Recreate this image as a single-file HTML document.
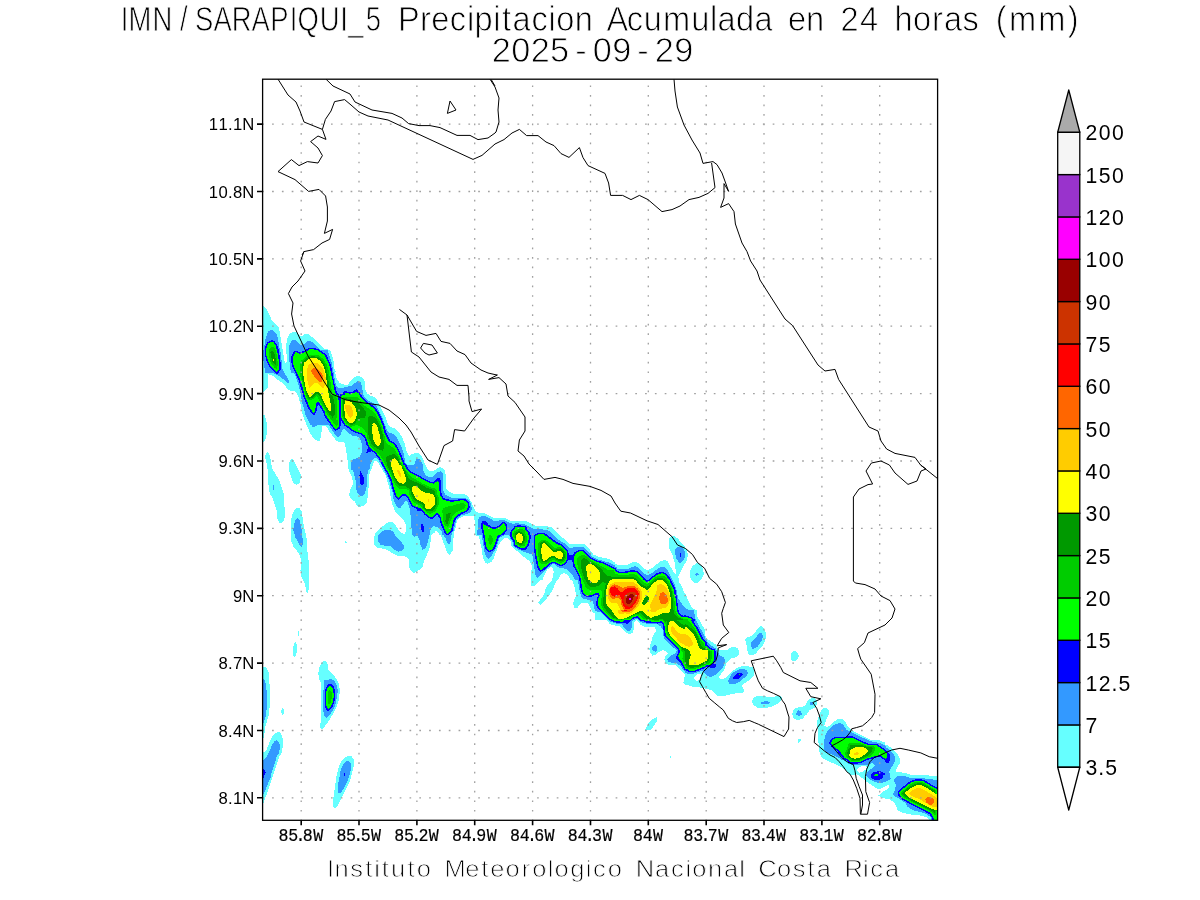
<!DOCTYPE html>
<html lang="es"><head><meta charset="utf-8"><title>IMN/SARAPIQUI_5 Precipitacion Acumulada en 24 horas (mm)</title>
<style>
html,body{margin:0;padding:0;background:#fff;}
body{width:1200px;height:900px;overflow:hidden;}
svg{display:block;}
text{font-family:"Liberation Sans",sans-serif;}
text{text-anchor:middle;}
.ttl{font-size:34.3px;fill:#000;stroke:#fff;stroke-width:0.85px;}
.ax{font-size:17.0px;fill:#000;}
.axm{font-family:"Liberation Mono",monospace;font-size:18.5px;stroke:#000;stroke-width:0.2px;}
.cb{font-size:21.2px;fill:#000;}
.ft{font-size:24.3px;fill:#000;stroke:#fff;stroke-width:0.85px;}
.grid{stroke:#a0a0a0;stroke-width:1.3;fill:none;}
.coast{stroke:#000;stroke-width:1.0;fill:none;stroke-linejoin:round;}
.frame{stroke:#000;stroke-width:1.3;fill:none;}
</style></head><body>
<svg width="1200" height="900" viewBox="0 0 1200 900">
<rect width="1200" height="900" fill="#fff"/>
<g id="shade" clip-path="url(#pc)">
<g shape-rendering="crispEdges">
<path fill="#66ffff" fill-rule="evenodd" d="M351.8 756.5L348.0 756.0L345.0 757.5L341.5 761.0L339.0 766.2L336.2 777.8L333.2 799.2L333.0 806.8L335.0 808.0L337.5 805.8L350.2 780.2L353.8 766.2L353.8 760.0ZM671.5 755.0L669.5 756.0L669.5 758.5L671.0 758.0ZM800.8 739.0L798.0 739.5L798.0 741.8L798.8 743.0L800.5 741.2ZM279.5 732.0L276.8 732.5L273.0 735.2L270.2 740.2L266.8 749.2L264.5 752.0L263.0 752.5L263.0 759.2L262.0 760.5L262.0 767.0L261.0 768.2L261.0 779.2L262.0 780.5L262.0 795.8L263.0 796.5L263.0 804.2L267.5 792.0L277.8 760.8L279.8 755.5L281.0 754.5L282.2 750.0L283.0 745.5L283.0 739.8L281.8 735.0ZM656.5 717.0L653.2 718.8L647.8 724.2L645.0 730.0L650.0 730.5L653.0 727.2L657.5 720.0ZM820.8 710.8L817.5 719.8L817.0 725.8L818.0 731.0L818.2 739.8L819.2 750.5L821.0 757.0L823.8 759.0L841.5 767.2L846.5 770.5L850.0 775.0L856.2 775.0L856.5 774.0L858.0 774.8L867.0 782.0L876.0 788.0L878.0 788.8L880.8 788.5L882.8 787.8L885.8 785.8L889.0 785.0L889.2 785.8L888.8 788.2L882.0 792.2L878.2 795.8L883.2 798.2L889.2 799.2L893.0 801.5L895.8 805.0L897.5 810.0L900.8 812.0L908.0 814.2L920.5 815.5L926.8 817.5L929.2 820.2L930.2 820.2L932.0 823.0L934.2 823.8L937.5 823.8L939.8 823.0L941.0 821.2L941.0 788.2L940.5 787.2L938.5 785.8L938.5 779.8L937.5 779.0L937.5 776.2L929.2 775.5L924.0 774.5L909.8 774.5L905.0 772.8L896.0 771.8L896.5 768.8L899.5 763.5L900.0 759.8L899.0 756.2L896.0 752.0L892.8 749.0L887.2 745.2L885.2 744.5L885.0 742.5L879.5 740.5L869.8 739.5L853.5 731.0L849.0 728.0L845.2 722.0L842.5 719.2L838.0 719.2L835.0 720.8L830.0 725.8L826.5 726.8L824.5 725.5L827.0 718.0L828.2 715.2L828.8 715.0L828.8 710.0L826.8 708.0L823.8 708.2ZM867.0 766.8L866.0 769.2L861.8 772.2L859.2 772.8L856.5 770.0L859.2 767.2L863.0 766.0ZM282.5 708.0L281.0 711.0L281.2 712.8L282.5 715.0L283.8 713.2L284.2 710.0ZM816.8 700.0L816.0 700.0L815.0 698.2L811.8 698.2L808.0 700.2L805.0 705.8L802.0 707.0L799.5 707.0L795.8 708.0L793.2 710.8L791.8 714.8L792.8 715.2L793.2 717.5L795.8 719.5L798.5 720.0L802.5 718.8L805.5 715.0L806.8 715.0L807.8 712.8L809.5 710.5L815.2 707.2L816.8 705.0ZM751.8 702.0L753.5 705.2L757.5 707.5L761.5 708.0L766.2 707.8L772.0 706.5L776.8 704.2L780.2 701.5L782.0 698.2L780.8 696.2L779.2 696.2L778.5 695.8L775.0 695.8L774.5 696.8L773.0 697.0L766.5 696.8L762.2 695.5L756.8 695.8L753.2 698.2ZM263.0 666.8L263.0 676.5L262.0 677.2L262.0 724.0L263.0 724.8L263.0 738.2L263.8 737.5L265.5 726.5L269.2 713.5L270.0 699.8L269.8 690.2L270.5 690.0L269.2 682.5L269.0 674.5L268.2 670.8L266.0 667.2ZM323.8 660.8L320.8 664.2L319.2 668.0L318.2 673.5L319.0 678.5L320.8 683.0L321.0 685.0L320.8 699.2L321.2 705.0L321.2 716.8L320.0 728.2L321.8 729.2L324.5 726.8L328.8 720.8L333.2 713.5L336.5 707.0L338.5 701.0L340.0 690.5L338.8 684.0L337.0 680.0L333.5 674.5L328.2 670.0L328.0 664.8L326.2 661.2ZM794.8 650.8L792.0 651.8L790.5 654.8L790.5 658.2L791.8 660.5L795.2 660.8L797.2 659.8L798.8 656.0L797.0 652.0ZM295.5 642.0L294.0 643.8L293.0 647.8L293.2 655.8L295.0 657.0L296.2 655.0L297.0 650.8L296.8 644.2ZM298.0 630.8L298.0 635.8L299.0 635.8L299.0 630.8ZM761.8 625.8L760.2 626.5L757.0 629.8L751.8 636.2L748.2 637.0L745.0 639.2L747.0 646.8L747.0 650.0L748.8 655.0L752.0 655.5L755.0 654.2L762.0 646.5L764.5 642.0L765.8 637.8L765.5 632.2L763.8 628.2ZM697.0 563.0L692.5 565.8L690.0 571.5L690.0 576.8L691.5 579.8L694.2 582.5L696.5 583.0L697.5 582.8L700.5 580.2L702.5 577.5L703.8 574.5L703.2 569.8L701.8 566.8L699.0 564.0ZM345.0 540.8L345.0 542.5L345.8 543.0L346.8 542.5L346.2 541.2ZM296.8 508.2L294.2 510.8L292.0 515.5L290.8 521.2L290.8 537.5L291.8 543.2L293.0 545.2L293.2 546.8L295.5 549.0L300.2 555.8L300.8 560.8L300.5 570.8L301.5 576.8L304.5 583.0L307.0 593.8L308.2 592.5L308.8 588.0L309.0 566.0L308.8 561.0L307.8 555.8L308.2 554.5L307.2 550.2L306.8 538.8L304.0 526.8L301.5 510.8L299.2 508.0ZM291.8 459.0L290.2 460.2L289.2 462.2L289.0 469.0L289.8 473.5L292.8 481.8L295.0 484.2L296.8 485.0L299.5 482.8L300.8 478.5L300.5 474.0L293.5 460.2ZM266.8 452.0L265.0 456.8L266.2 461.2L267.5 469.2L268.8 489.5L270.2 494.5L271.8 496.2L275.2 505.5L276.8 511.5L277.5 518.5L279.2 522.5L281.8 523.0L284.2 520.0L285.0 515.8L283.8 495.2L284.2 494.8L279.5 480.5L272.0 468.2L270.5 458.8L269.5 455.2L268.2 452.5ZM263.0 414.2L263.0 442.0L264.2 442.0L265.8 438.5L267.0 433.0L267.0 424.2L265.0 415.8ZM262.8 305.8L262.8 349.0L262.0 349.8L262.0 359.8L262.8 361.8L263.0 391.8L264.5 391.2L267.5 387.5L267.5 374.5L268.0 374.2L271.8 375.0L277.0 379.5L283.0 383.0L288.2 390.0L295.0 391.5L296.0 392.2L298.5 397.2L301.0 406.0L302.5 413.5L305.0 421.0L309.2 431.0L312.8 437.8L316.8 440.5L320.0 440.5L321.2 435.5L322.0 426.8L322.5 426.0L326.2 426.0L329.0 431.2L335.8 440.0L338.2 442.0L341.5 442.5L343.5 442.2L344.5 442.8L345.8 447.8L347.8 461.8L347.5 465.2L349.5 472.0L351.8 476.5L353.0 482.0L352.8 484.0L349.8 490.8L349.2 495.0L350.0 497.5L352.8 500.2L355.0 501.8L357.0 506.2L359.5 506.8L363.2 506.2L366.8 502.5L368.2 493.2L369.2 475.5L370.5 470.5L371.5 469.5L372.8 464.8L374.8 460.8L375.2 460.5L377.8 462.0L386.0 475.8L390.0 491.2L390.8 498.5L392.5 504.5L394.5 509.2L394.2 510.0L397.8 514.5L403.5 519.8L405.8 524.2L406.2 530.2L404.5 533.8L403.8 534.0L400.2 532.0L395.5 525.5L392.5 522.5L388.2 522.0L380.5 527.8L376.8 531.2L375.5 533.0L374.2 536.5L373.8 540.0L374.5 545.0L376.8 547.5L385.8 549.2L395.5 555.0L398.0 555.8L402.8 555.8L406.8 557.0L409.0 560.0L409.2 567.5L410.5 569.8L413.8 573.0L419.8 569.8L423.0 566.8L423.8 561.5L428.5 551.2L429.8 547.0L431.5 534.8L433.0 533.2L435.0 533.0L435.2 531.0L437.5 531.8L439.5 535.0L440.8 535.5L447.5 553.2L450.0 555.0L452.5 550.8L454.0 532.0L455.5 528.0L456.2 523.5L457.5 520.0L459.5 518.0L462.2 516.8L467.8 515.5L473.0 515.5L473.5 516.0L474.8 521.8L475.0 535.0L479.0 536.5L481.8 549.5L482.8 556.8L485.0 562.5L487.8 563.8L491.2 562.0L493.8 558.2L498.2 546.0L501.0 541.0L504.2 538.0L507.5 538.0L511.2 542.2L511.5 545.5L512.0 546.5L515.0 549.0L515.0 550.0L518.0 551.5L522.2 555.5L529.5 561.2L531.8 565.5L531.8 569.8L531.2 570.0L530.8 576.2L531.2 585.8L535.0 585.5L540.0 580.0L542.5 580.0L544.0 575.5L547.5 569.5L550.8 566.8L552.0 567.0L553.2 569.2L553.8 572.0L552.0 580.8L548.0 584.5L545.8 587.8L544.0 594.8L538.2 602.5L540.5 604.5L544.0 601.8L550.2 594.0L553.5 587.8L555.8 581.8L557.0 580.0L558.2 580.0L560.5 575.0L563.2 573.0L566.8 573.8L569.2 576.8L570.5 580.0L571.5 580.0L573.0 582.0L574.8 588.2L576.2 595.8L574.5 599.0L573.2 603.0L574.2 608.2L577.5 608.2L579.2 605.2L582.5 602.5L586.0 602.5L587.8 603.0L588.5 603.8L592.2 611.5L595.0 613.8L595.0 620.0L606.8 620.0L608.5 621.5L609.5 624.2L612.2 625.0L613.2 624.8L615.2 625.8L619.2 626.2L625.8 632.5L629.8 634.5L633.2 632.5L634.5 621.8L636.2 620.0L638.8 622.2L640.8 625.0L644.8 626.8L650.8 626.8L654.8 627.5L656.2 630.8L653.0 635.5L649.2 648.8L650.0 652.5L652.5 655.5L655.8 655.0L659.5 651.5L662.5 650.0L665.0 650.8L668.0 653.2L665.5 656.2L664.2 659.8L665.8 663.2L670.0 665.5L675.0 665.0L677.8 667.0L685.0 674.2L684.2 679.5L683.2 682.5L685.8 685.0L687.8 685.0L694.0 687.0L699.8 687.5L711.8 690.0L716.8 695.5L725.2 695.8L731.2 694.0L737.5 693.2L742.5 693.2L744.2 691.8L743.5 688.8L741.8 685.5L752.2 677.8L754.2 675.0L754.2 670.8L752.5 667.5L749.5 666.5L742.8 666.2L740.0 666.8L735.2 669.0L731.2 672.0L724.2 678.8L720.2 678.8L719.8 678.2L719.2 676.8L723.5 670.5L725.0 667.5L726.0 663.8L728.0 661.0L731.2 658.5L736.8 657.0L739.5 654.2L739.2 650.0L738.5 650.0L737.5 648.2L734.5 647.0L730.8 647.5L727.5 650.0L718.8 650.0L716.0 644.8L711.5 641.5L707.8 639.5L705.8 637.0L705.0 635.5L705.0 630.0L697.5 616.8L696.8 610.0L695.5 610.0L695.0 609.2L693.2 609.0L692.2 608.0L688.5 601.0L685.0 593.0L684.8 593.5L682.5 588.2L679.2 582.0L678.2 576.8L682.2 568.5L687.0 560.2L688.0 554.8L686.8 550.0L684.5 546.0L677.2 538.0L674.2 536.2L670.8 536.8L669.2 538.2L669.0 540.8L669.5 549.2L672.0 553.8L674.8 563.0L676.2 574.2L676.0 574.8L673.5 572.2L667.5 560.8L664.0 560.0L660.8 561.2L652.2 567.8L648.2 570.0L645.0 569.2L640.0 564.2L635.2 561.8L631.8 562.5L627.5 564.8L623.8 565.5L618.0 565.0L615.2 564.0L614.8 562.2L608.8 559.0L606.0 558.0L598.8 557.0L593.5 554.5L588.0 547.2L584.2 544.2L580.5 543.5L570.0 544.2L567.0 541.2L559.8 535.5L551.2 527.2L548.5 526.5L540.8 526.2L534.8 525.5L526.0 521.2L525.2 521.2L525.0 520.8L521.5 521.0L516.2 520.5L512.5 521.2L511.0 521.0L503.5 517.5L499.5 518.0L493.2 517.5L483.5 512.5L478.2 512.5L475.2 511.0L471.8 502.8L468.0 496.5L465.0 494.5L454.2 494.2L449.2 491.8L445.8 488.2L445.8 476.0L444.8 470.2L443.0 468.0L439.8 467.2L436.2 469.0L433.2 471.2L431.5 471.5L429.8 471.0L426.8 468.2L425.5 465.0L424.8 464.8L424.2 461.8L421.8 456.8L418.2 453.2L414.8 453.0L411.8 454.2L409.2 456.8L406.5 450.8L404.2 442.2L401.5 436.2L398.5 432.0L395.0 428.2L391.8 427.5L388.0 425.2L386.0 418.0L377.2 400.2L374.2 397.0L370.5 395.8L366.8 393.2L365.5 389.5L365.0 383.0L364.2 380.5L361.8 376.8L357.2 376.0L354.2 377.5L350.5 381.0L348.5 384.0L347.5 384.5L344.8 385.0L339.5 382.8L336.8 378.8L335.0 372.8L336.0 372.2L334.2 367.8L333.5 361.0L332.0 354.8L330.0 350.0L328.8 350.0L327.5 349.0L325.0 349.0L313.5 338.0L308.0 334.0L305.0 334.2L302.8 335.5L300.0 335.8L297.8 333.0L295.8 332.0L292.5 332.0L289.8 334.0L287.8 337.2L286.8 340.5L286.2 345.2L286.8 361.0L286.0 364.2L284.5 361.0L279.2 329.0L278.0 326.2L272.2 321.0L266.8 309.5ZM700.8 674.0L701.5 676.0L700.2 679.2L697.5 681.0L695.0 680.2L694.0 678.5L694.0 677.5L697.5 674.2Z"/>
<path fill="#3399ff" fill-rule="evenodd" d="M896.8 776.8L894.2 779.2L894.5 782.0L895.8 784.8L895.0 790.2L893.2 794.2L894.8 796.5L901.0 799.8L905.2 802.8L907.2 806.5L910.8 809.2L914.8 810.8L923.8 812.8L926.2 814.0L930.2 817.0L931.0 818.0L931.5 820.5L932.8 822.2L934.2 822.8L937.5 822.8L939.0 822.2L940.0 821.0L940.0 788.5L937.5 786.2L937.5 780.0L920.2 778.0L910.5 778.2L903.5 775.5L899.8 775.5ZM348.8 761.2L346.2 761.2L343.2 764.2L340.8 769.8L338.2 784.2L338.0 792.5L340.8 792.5L343.5 788.8L347.0 782.0L349.0 776.8L350.8 769.8L350.8 763.8ZM276.8 740.0L274.8 741.0L272.2 744.5L270.0 750.2L266.8 756.8L263.0 760.8L263.0 767.8L262.0 768.5L262.0 779.0L263.0 779.8L263.0 795.5L270.5 777.8L272.2 770.5L275.2 762.0L276.8 756.2L277.5 755.0L278.2 755.0L279.5 750.2L280.0 744.8L278.8 742.0ZM828.8 729.8L826.5 732.8L825.0 735.8L823.8 743.0L824.2 749.2L826.8 752.5L834.5 755.5L842.0 759.8L847.2 762.0L848.5 764.0L853.2 765.0L857.8 764.5L865.2 765.0L868.5 764.5L872.2 763.2L875.0 765.0L874.5 766.5L868.0 771.2L865.8 775.0L868.0 778.0L870.8 780.0L874.8 782.0L879.0 783.2L883.5 782.5L890.8 779.2L889.2 771.5L890.8 768.2L893.2 765.0L895.0 761.0L894.5 755.8L892.0 752.0L885.8 747.0L884.8 745.2L880.0 743.0L870.2 741.2L846.8 730.0L842.5 723.8L840.0 723.2L835.8 723.8L832.8 725.5ZM801.8 713.2L800.8 711.5L798.8 710.0L797.0 711.8L795.8 715.0L799.5 715.8L800.2 715.0L801.5 714.8ZM810.0 702.0L810.0 704.5L813.2 704.5L813.0 702.0ZM770.0 703.2L769.2 702.0L766.0 701.0L762.5 701.8L760.0 703.2L762.2 704.0L767.2 704.0ZM331.8 679.2L329.2 679.2L328.2 680.0L324.2 680.0L323.0 698.0L323.2 710.5L324.5 715.8L326.8 718.0L329.8 714.8L332.8 710.5L335.5 704.5L338.0 690.8L336.2 684.0L334.2 680.0L332.8 680.0ZM263.0 677.5L263.0 723.8L265.2 718.5L266.2 713.8L266.8 707.0L266.8 693.0L266.2 686.2L265.0 680.0L263.8 679.8ZM747.0 670.5L744.5 669.2L739.8 669.2L735.0 671.2L732.2 673.5L730.2 676.2L728.2 680.5L728.8 683.2L730.8 684.5L735.0 684.2L739.0 682.0L746.0 676.5L748.0 673.2ZM655.0 645.0L652.0 647.5L652.0 649.5L653.2 651.2L655.8 651.8L657.5 648.8L656.8 645.8ZM761.8 633.2L759.5 633.2L751.2 642.5L751.2 646.8L752.5 648.8L755.0 648.2L757.2 647.0L761.5 641.0L763.0 637.0ZM697.0 573.0L695.0 574.2L696.8 575.8L698.8 574.5ZM678.8 546.8L676.2 548.0L675.0 550.5L675.0 552.8L676.0 557.8L677.8 561.0L680.0 563.0L681.8 562.0L684.2 558.8L685.0 555.5L685.0 553.0L683.8 549.2L681.2 547.2ZM378.2 535.8L378.2 541.8L380.5 544.5L384.0 545.5L388.5 545.5L391.2 546.5L395.2 550.2L398.2 551.8L401.8 550.8L403.8 548.2L403.8 545.0L394.8 535.0L393.2 531.8L390.0 529.5L385.5 530.0L381.8 531.8ZM297.5 518.0L295.2 520.5L294.0 525.0L293.2 530.5L295.5 537.5L299.0 544.0L301.8 547.5L303.0 543.5L301.8 530.2L299.5 520.0ZM479.2 517.5L477.5 521.5L477.5 529.8L477.0 535.0L481.8 535.2L484.5 552.0L486.2 556.8L488.2 558.8L491.0 556.8L493.2 552.8L493.2 552.0L494.8 550.5L497.0 546.0L499.5 538.0L504.8 535.0L508.5 535.0L509.5 536.2L510.0 538.5L512.5 541.8L512.5 545.2L513.8 546.8L519.2 550.0L522.2 550.8L523.8 552.0L531.0 554.0L532.0 554.8L533.0 558.0L535.2 574.2L537.0 578.0L539.0 577.0L544.8 570.5L552.5 564.2L554.5 564.2L559.0 567.8L566.8 568.8L572.8 575.0L575.0 580.0L577.8 580.2L580.2 593.5L581.8 598.0L592.8 601.5L593.2 602.0L593.8 606.0L595.0 610.5L596.0 610.5L598.2 612.0L600.5 612.2L605.8 617.8L611.0 622.0L617.2 623.8L621.5 624.2L626.8 630.5L630.5 630.5L631.8 627.0L632.0 621.8L633.5 620.0L636.2 618.8L637.5 619.2L640.2 622.0L641.8 622.5L643.8 622.5L645.0 623.2L648.2 624.0L657.5 624.5L660.0 625.8L662.5 629.2L663.0 634.8L664.5 639.2L671.0 646.0L676.8 650.0L676.0 652.8L675.2 653.5L671.8 654.8L667.0 659.2L668.0 661.5L672.2 663.0L676.8 663.2L681.5 667.2L682.5 668.5L682.8 670.0L685.0 671.5L685.0 672.5L689.0 674.2L693.5 673.8L701.8 670.8L704.5 672.5L705.8 675.0L709.2 676.8L712.2 676.5L716.5 674.5L722.5 667.5L724.5 663.5L725.0 660.0L723.8 656.8L720.0 656.2L716.0 648.8L715.2 648.0L714.0 647.8L709.8 644.0L707.8 643.0L707.2 641.2L705.0 639.0L705.0 637.5L702.5 632.2L695.0 618.5L695.0 614.2L693.5 613.2L694.2 610.0L688.2 610.0L684.8 607.2L680.5 602.2L678.0 597.8L677.2 592.5L674.5 583.8L667.0 569.5L664.2 566.8L660.8 567.0L659.2 567.8L652.2 572.8L648.2 575.0L645.0 574.2L638.2 567.5L635.2 566.2L633.0 566.8L628.2 569.0L625.0 569.5L619.0 569.2L617.5 568.8L616.5 567.5L615.2 567.0L614.8 565.5L609.8 562.8L596.8 559.2L592.8 557.0L584.2 547.5L579.0 546.5L574.8 547.0L571.0 548.2L569.8 547.8L565.5 544.0L557.8 539.5L549.8 531.5L546.8 529.8L534.0 528.8L525.2 524.8L525.0 523.8L521.0 524.0L517.2 523.2L512.8 523.8L510.0 523.0L503.5 519.5L500.0 520.0L498.8 520.8L493.2 520.5L489.2 518.0L483.5 515.5ZM273.2 485.0L273.2 489.2L273.8 490.0L274.2 487.0L274.0 485.5ZM291.5 341.0L289.5 344.8L289.0 359.0L290.0 364.2L290.8 372.5L293.8 372.5L295.8 376.5L298.0 383.0L300.8 394.5L301.8 401.0L305.5 414.5L310.5 424.8L311.2 425.0L313.2 427.5L316.5 426.0L317.2 425.0L328.8 425.0L334.8 434.0L338.2 437.5L340.8 435.0L342.0 430.0L344.2 428.2L350.0 434.2L353.0 435.8L358.2 436.8L360.8 440.0L361.8 444.5L361.8 452.0L360.2 456.2L357.0 458.2L353.2 459.2L352.8 460.2L351.8 460.8L350.8 465.8L351.5 469.5L353.0 470.5L355.8 481.2L356.2 488.8L357.5 493.2L360.0 495.8L363.2 495.5L365.0 492.8L366.8 486.2L367.0 477.5L368.2 470.2L369.2 470.0L370.5 464.0L372.8 459.5L375.8 457.5L378.2 459.8L380.0 462.5L388.5 478.8L392.5 492.2L393.2 498.5L394.8 502.8L397.2 507.2L400.0 508.2L404.5 502.2L406.2 501.0L407.0 501.2L408.8 505.5L410.2 511.2L411.2 521.8L411.8 534.2L414.2 536.8L417.2 536.0L417.8 536.2L419.5 539.8L420.5 544.5L422.5 549.5L425.0 549.2L427.0 545.2L428.5 539.0L428.8 536.0L430.0 533.5L430.8 528.2L433.5 526.2L437.0 526.8L439.8 529.0L441.5 531.2L442.5 535.0L443.5 535.0L445.5 538.0L447.0 543.2L449.2 544.5L450.8 541.0L451.8 533.2L453.5 531.0L456.5 519.5L461.5 515.2L466.8 514.2L469.8 512.8L471.8 509.2L471.2 504.8L469.2 500.8L465.8 498.0L462.8 497.5L457.5 498.2L452.0 497.8L445.5 494.8L443.2 490.8L443.2 478.5L442.5 473.2L440.5 471.2L437.5 472.5L432.2 477.2L429.2 477.5L425.5 474.8L423.2 470.2L423.0 466.2L422.0 462.5L420.0 459.5L417.5 458.8L415.8 459.8L414.0 465.0L407.2 464.8L405.5 462.5L403.8 454.0L401.8 448.0L396.8 437.5L394.2 434.2L388.5 432.2L387.2 431.2L382.5 418.0L376.0 405.2L372.5 402.5L367.0 400.0L363.8 396.8L361.8 385.5L360.5 382.0L358.0 380.8L351.8 385.5L342.2 388.0L337.5 387.5L336.2 386.2L331.2 360.5L327.5 350.0L321.5 350.0L320.5 349.5L310.8 341.0L307.5 341.2L304.0 344.0L301.2 345.5L295.8 340.5L293.2 340.0ZM270.8 329.8L268.2 331.5L266.8 334.8L265.2 339.8L264.0 348.2L263.5 349.8L263.0 350.0L263.0 359.5L263.8 361.5L265.0 372.5L272.0 372.5L279.8 376.5L283.8 379.5L287.0 383.0L289.2 382.5L287.8 378.2L282.8 370.2L282.0 367.2L281.2 354.8L280.0 350.5L277.5 336.5L275.8 333.0L273.2 330.2Z"/>
<path fill="#0000ff" fill-rule="evenodd" d="M897.8 792.0L898.5 796.2L902.8 799.8L910.0 804.0L929.0 813.8L931.5 816.8L932.5 820.2L933.5 821.5L937.5 821.8L939.0 820.8L939.0 788.8L938.0 787.8L932.2 785.0L924.5 780.2L920.2 779.0L915.5 779.2L909.2 781.8L902.2 787.5ZM344.0 773.0L344.0 775.8L345.0 775.8L345.0 773.0ZM885.0 773.8L882.8 772.2L879.5 771.2L874.8 771.8L871.8 773.2L870.5 776.0L871.8 778.2L874.2 779.5L878.5 779.8L882.0 778.8L883.2 776.8L882.5 775.2L885.0 775.0ZM263.0 768.8L263.0 778.8L265.8 772.2L264.8 770.2ZM829.2 742.0L829.2 743.0L830.8 746.0L837.2 751.0L843.8 759.0L848.2 761.2L848.5 762.5L850.0 763.5L855.8 764.0L860.2 763.2L868.8 759.5L879.0 756.8L880.8 757.2L882.5 758.8L885.2 760.2L885.0 761.8L886.8 763.8L889.2 762.0L890.5 759.5L890.0 755.0L888.0 752.2L883.8 748.5L877.0 744.0L875.8 743.5L867.8 743.5L852.5 736.5L849.0 736.0L846.2 736.5L835.8 736.8L832.0 738.5ZM331.2 683.8L328.2 684.2L326.8 686.0L325.2 689.5L324.5 693.2L324.5 702.2L325.2 707.5L326.2 709.5L328.2 711.2L330.8 709.2L333.0 706.0L335.0 699.0L335.0 689.8L333.2 685.5ZM743.0 674.5L741.8 673.2L739.8 672.8L738.2 673.0L734.8 675.2L733.0 678.0L733.2 679.2L737.5 679.2L740.5 677.2ZM679.8 552.5L679.8 556.8L681.0 557.0L681.2 552.5ZM534.0 535.2L533.5 543.8L534.8 556.0L537.0 566.8L539.2 570.8L540.8 571.8L541.2 571.2L542.5 571.2L552.0 563.2L554.8 563.2L561.0 566.5L564.8 564.8L568.5 560.0L572.0 560.0L573.5 566.5L578.8 576.8L581.0 590.8L582.8 594.8L586.5 597.0L588.0 597.2L592.0 596.5L595.8 594.8L597.8 594.5L598.2 595.2L596.8 598.5L596.0 604.8L597.5 607.8L606.5 617.0L611.0 620.8L617.2 622.8L620.8 623.2L623.5 622.8L624.2 623.2L627.5 623.8L629.5 621.5L630.8 621.2L632.8 619.2L635.0 618.0L636.8 617.8L638.2 618.5L641.0 621.2L644.0 621.5L646.5 622.8L657.5 623.5L661.0 622.8L662.8 624.8L664.2 635.5L677.8 648.8L678.2 652.5L676.8 656.0L675.5 656.8L677.2 659.8L680.2 662.2L681.8 665.5L683.5 667.8L683.5 669.2L684.2 670.0L687.0 670.8L689.2 672.0L695.2 672.0L702.8 668.8L705.8 668.0L707.5 666.5L709.8 666.5L710.8 668.0L713.5 668.0L716.2 667.0L716.2 663.8L713.5 664.0L715.2 661.2L715.8 658.8L715.8 652.8L715.2 649.5L713.8 648.5L711.8 648.5L706.5 644.8L706.5 642.0L703.0 638.5L698.0 628.2L693.5 621.8L694.5 620.5L694.5 619.5L693.5 618.5L690.8 617.0L689.2 616.8L688.2 615.8L686.0 615.8L685.0 615.2L683.0 615.8L679.5 613.2L678.2 608.5L676.2 592.8L674.8 587.5L670.0 578.0L666.2 573.5L662.5 571.8L658.5 572.5L655.0 574.2L648.5 580.0L647.0 580.2L644.2 578.2L637.5 571.2L633.8 570.2L631.5 570.2L624.8 571.5L619.2 571.5L617.0 570.5L615.8 568.2L602.8 562.0L597.2 560.5L593.2 558.8L590.5 556.8L586.0 552.0L582.5 549.8L578.5 550.0L575.2 551.8L574.2 552.8L573.2 555.0L569.2 555.5L568.0 550.8L564.8 546.8L561.2 544.2L557.0 542.2L545.2 533.5L542.0 532.5L538.2 532.8L535.0 534.2ZM514.2 526.2L513.5 527.0L513.5 528.0L511.8 529.5L510.2 532.5L510.5 537.2L513.5 541.5L513.5 545.0L517.0 547.8L520.0 549.2L522.8 549.8L525.8 549.5L528.5 545.8L530.8 538.5L530.8 536.5L529.8 532.8L526.5 528.8L526.5 527.0L525.8 526.2L518.8 525.2ZM421.2 524.2L421.0 527.5L422.0 531.8L423.8 531.8L424.0 527.2L423.0 524.2ZM504.0 522.0L502.2 522.0L498.5 525.8L496.0 527.0L491.2 526.5L488.5 524.5L485.0 520.8L482.5 520.5L481.0 523.8L481.0 528.2L482.0 530.5L483.0 535.0L484.8 546.5L485.8 549.5L486.8 550.8L490.0 552.2L493.0 550.8L494.0 549.8L496.0 545.8L498.8 536.8L500.8 536.2L502.0 535.0L503.2 535.0L507.0 530.8L507.5 527.5L506.8 524.2L505.5 522.8ZM360.5 470.8L359.5 475.5L360.0 483.8L362.0 485.0L364.0 484.2L363.8 477.2ZM294.8 350.8L293.8 351.8L291.5 356.2L291.0 359.2L291.2 362.5L292.8 367.5L299.0 381.2L302.8 395.0L308.0 407.8L312.0 414.0L313.8 415.2L315.2 414.2L316.5 410.8L317.8 404.5L318.2 404.2L323.5 412.5L323.5 414.8L325.0 417.2L334.8 430.5L336.5 430.5L339.8 428.5L340.0 426.8L340.8 425.5L340.8 422.2L341.2 421.0L343.5 423.8L343.5 425.5L344.2 426.2L346.2 426.5L351.0 430.5L356.5 433.2L360.5 434.2L363.8 436.8L364.8 439.0L366.5 445.0L368.5 447.5L368.5 448.0L367.0 449.2L366.2 453.2L371.8 451.0L374.8 453.5L379.0 459.0L385.0 470.2L386.0 471.2L390.2 480.2L392.5 489.2L395.2 497.2L398.2 499.8L403.2 495.5L405.0 495.5L407.0 497.5L411.0 505.5L414.2 508.0L417.0 508.8L416.8 510.5L417.5 511.2L422.0 511.5L424.5 514.8L425.8 515.2L429.0 518.2L431.5 519.0L432.5 518.8L436.8 515.0L437.5 515.0L439.8 518.8L440.0 521.8L444.2 532.2L446.8 535.0L447.5 535.2L449.0 534.5L452.5 530.8L454.5 522.0L455.8 518.8L460.8 514.5L467.2 511.5L468.2 510.5L469.8 507.5L469.0 502.8L465.8 499.5L462.2 498.5L457.2 499.8L451.2 500.2L443.8 498.2L441.8 494.5L441.0 490.8L440.5 479.8L439.2 477.0L433.5 481.8L430.5 481.5L426.5 480.0L420.0 476.0L412.2 472.2L408.0 468.5L406.2 464.8L404.8 463.5L399.5 450.5L396.8 445.5L393.2 442.0L390.5 440.8L388.8 438.0L386.0 432.2L384.8 426.8L382.2 420.0L379.5 414.0L376.8 409.8L372.2 405.2L367.8 402.2L363.5 398.2L358.2 390.5L356.2 389.0L352.2 392.0L349.8 392.2L345.5 391.0L344.2 391.2L343.5 392.0L343.2 393.5L341.0 393.8L339.5 395.8L339.0 394.5L337.2 393.2L334.5 383.8L330.8 364.2L326.2 354.8L325.0 353.5L317.5 348.8L313.0 347.8L308.5 348.2L304.0 351.0L299.8 352.2L295.8 350.5ZM271.2 340.2L268.2 341.8L267.0 343.0L265.5 345.8L264.5 349.8L264.8 355.0L266.8 361.5L269.0 366.0L272.2 370.0L276.0 373.8L276.8 374.0L278.5 372.8L280.5 369.8L280.5 361.8L278.8 350.2L277.0 344.5L274.0 340.8Z"/>
<path fill="#00ff00" fill-rule="evenodd" d="M899.2 792.5L900.0 795.8L903.5 798.5L910.8 802.8L929.8 812.5L933.0 816.2L934.2 820.2L937.5 820.2L937.2 789.0L931.5 786.2L923.8 781.5L920.2 780.5L915.5 780.8L910.8 782.5L903.0 788.8ZM874.2 775.5L875.0 776.0L878.0 776.0L877.5 774.5L876.0 774.0ZM830.8 742.5L832.2 745.5L839.0 750.5L844.5 757.8L850.0 760.8L850.0 762.0L855.8 762.5L860.2 761.8L868.0 758.2L879.0 755.2L880.8 755.5L883.2 757.5L885.8 758.8L887.0 756.8L886.8 753.2L883.0 749.8L876.2 745.2L867.8 745.0L861.5 742.5L852.5 738.0L849.0 737.5L846.2 738.0L835.8 738.2L832.8 739.8ZM329.8 685.5L329.0 685.8L327.0 689.2L326.0 693.8L326.0 701.8L326.5 705.8L328.0 709.2L329.8 708.0L332.0 704.5L333.2 700.2L333.8 695.5L333.0 688.2L331.2 686.2ZM739.0 674.2L739.0 674.8L739.8 674.8L739.8 674.2ZM575.8 553.2L574.2 556.5L573.8 561.2L575.0 566.0L580.2 576.2L582.5 590.2L584.2 594.2L588.0 595.8L592.0 595.0L595.5 593.2L598.2 592.8L600.0 595.2L598.2 599.0L597.5 604.2L599.0 607.2L609.8 618.0L612.5 620.0L617.2 621.2L622.0 621.8L625.2 620.0L630.0 620.0L633.2 617.2L637.0 616.2L639.0 617.2L641.8 620.0L644.2 620.0L646.5 621.2L657.5 622.0L661.8 621.2L664.2 624.2L665.8 635.0L679.2 648.2L680.0 652.5L678.2 655.8L679.2 659.2L681.8 661.8L683.2 665.0L685.0 667.2L685.0 668.8L687.8 669.5L689.2 670.5L695.2 670.5L702.5 667.2L705.0 666.8L705.2 666.0L707.2 665.0L710.0 665.0L712.0 663.5L713.8 660.8L714.2 658.2L713.8 655.8L714.2 654.5L713.8 650.0L711.2 650.0L705.0 645.2L705.0 642.5L701.5 639.0L696.5 628.8L691.0 620.5L691.2 620.0L693.0 620.0L690.0 618.2L688.8 618.2L687.5 617.0L685.8 617.2L685.0 616.8L684.8 617.5L682.2 617.0L678.2 614.2L676.8 609.0L675.5 597.8L673.2 588.0L669.2 579.8L665.5 574.8L662.5 573.2L659.2 573.8L655.8 575.5L649.2 581.2L646.8 581.8L643.5 579.5L636.8 572.5L633.8 571.8L631.5 571.8L624.8 573.0L619.0 573.0L615.2 571.2L615.0 569.5L602.0 563.2L596.5 561.8L592.5 560.0L589.8 558.0L585.2 553.2L582.5 551.2L579.2 551.2ZM535.5 535.8L535.0 543.2L536.0 553.8L538.5 566.2L540.0 569.5L541.8 570.0L547.2 565.0L551.8 561.8L555.0 561.8L560.8 565.0L564.8 562.8L566.8 560.0L567.5 555.2L566.8 551.8L564.0 548.0L560.5 545.5L556.2 543.5L544.5 534.8L542.0 534.0L538.2 534.2ZM515.0 527.5L515.0 529.0L513.2 530.0L511.8 533.0L512.0 536.8L515.0 541.0L515.0 544.5L520.8 548.0L525.0 548.2L525.0 547.5L527.0 545.2L529.2 538.0L528.2 533.2L525.0 529.2L525.0 527.5L518.8 526.8ZM504.8 524.0L503.0 523.2L500.2 526.2L497.5 528.2L493.8 529.2L488.8 527.2L485.8 525.0L482.5 524.2L482.5 527.8L483.8 531.0L486.2 546.0L487.5 549.5L490.0 550.8L492.5 549.2L494.5 545.2L497.8 535.2L500.0 535.0L502.0 533.0L504.0 532.0L505.8 529.2L505.8 526.5ZM345.0 392.5L345.0 394.8L341.8 395.0L340.5 397.2L340.8 414.8L341.8 419.2L345.0 423.2L345.0 425.0L346.8 425.0L351.8 429.2L357.2 432.0L361.2 433.0L365.0 435.8L366.8 439.8L368.2 445.0L371.2 448.8L375.2 452.0L378.8 456.0L382.2 461.2L386.5 469.8L387.2 470.2L391.8 479.8L394.0 488.8L396.8 496.8L398.2 498.2L403.2 493.8L405.8 494.2L408.5 497.0L412.8 505.2L415.0 506.8L418.5 507.5L421.5 509.0L422.2 509.8L422.0 510.0L418.2 510.0L422.5 510.0L425.0 512.2L425.2 513.5L426.5 514.0L429.8 517.0L431.8 517.5L436.8 513.2L438.8 514.0L441.2 518.2L441.5 521.2L445.2 530.8L447.5 533.8L451.0 530.2L453.0 521.5L454.2 518.2L460.0 513.2L466.8 510.0L468.2 507.0L467.5 503.2L465.0 500.8L462.2 500.0L457.2 501.2L451.2 501.8L446.5 500.8L442.5 499.2L440.2 495.0L439.5 491.2L439.2 484.5L438.2 480.8L435.8 481.8L433.5 483.5L430.5 483.0L425.8 481.2L419.2 477.2L410.2 472.8L406.5 469.0L404.8 465.2L403.5 464.5L398.0 451.0L395.2 446.0L392.5 443.2L389.2 441.8L387.2 438.5L384.5 432.8L383.2 427.2L380.8 420.5L378.0 414.5L375.2 410.2L371.5 406.5L364.5 401.2L362.0 398.8L358.5 393.5L357.2 392.5L356.0 392.0L353.5 393.2L350.8 393.8ZM295.5 352.0L293.0 356.8L292.5 359.8L292.8 362.0L294.2 367.0L299.5 378.0L302.8 388.0L304.5 395.2L309.5 407.2L313.8 413.8L315.0 410.2L316.2 404.0L317.2 401.8L317.8 401.5L319.8 403.5L325.0 412.0L325.0 414.2L335.2 429.0L335.8 429.2L338.2 428.0L338.8 425.2L339.2 425.0L339.0 424.0L339.5 420.0L338.8 419.8L339.2 415.8L338.8 413.0L338.8 402.2L338.2 397.8L337.5 395.0L336.5 395.0L336.0 394.5L334.8 391.2L329.2 364.8L324.8 355.2L317.8 350.5L313.0 349.2L309.2 349.5L304.8 352.2L299.8 353.8ZM271.2 341.8L268.5 343.5L267.0 346.2L266.0 350.2L266.5 356.0L268.2 361.0L270.5 365.5L276.8 372.5L279.0 369.2L279.0 362.2L278.0 354.8L275.5 345.0L273.2 342.0Z"/>
<path fill="#00cc00" fill-rule="evenodd" d="M900.8 792.8L901.2 795.2L904.2 797.5L911.5 801.8L927.2 809.5L931.2 812.0L932.5 813.5L936.2 815.5L936.2 810.8L937.5 810.8L937.5 795.0L936.2 794.0L936.0 789.8L930.8 787.2L923.5 782.8L920.2 781.8L914.8 782.2L910.8 784.0ZM845.8 757.0L850.2 759.2L851.5 761.0L855.8 761.2L860.0 760.5L869.2 756.8L872.2 754.5L875.0 750.8L874.5 750.0L875.0 748.2L873.8 746.2L867.8 746.2L860.5 743.2L849.0 743.5L848.2 744.5L848.2 746.8L847.0 748.0L846.5 750.5L845.2 752.0ZM330.0 690.0L328.2 691.8L327.5 696.0L328.0 702.8L329.2 705.0L330.8 702.0L331.8 698.0L331.8 692.5ZM577.5 558.2L577.0 562.0L577.2 564.5L579.5 571.8L581.5 575.8L582.2 579.5L583.2 580.2L583.8 582.8L585.8 587.5L590.0 590.0L594.0 590.5L599.0 590.0L600.8 590.2L602.0 591.0L602.5 592.2L602.2 595.5L601.2 598.8L600.8 604.0L603.2 609.2L605.5 612.2L610.5 617.0L612.5 618.5L614.5 619.2L621.8 620.5L625.2 618.8L629.5 618.8L632.5 616.2L637.0 615.0L638.5 615.8L639.8 615.2L641.5 616.5L643.2 618.8L645.0 619.0L646.8 620.0L657.5 620.8L661.0 620.0L662.5 620.2L665.5 623.8L667.0 634.5L680.5 647.8L681.0 651.0L683.2 652.0L682.5 658.5L683.2 659.8L683.2 662.0L686.8 668.0L690.0 669.2L694.8 669.2L701.8 666.2L703.2 666.0L706.5 664.0L708.8 663.8L710.5 662.0L712.0 658.0L712.0 651.2L710.5 651.0L703.8 645.8L703.8 643.8L700.2 639.5L695.2 629.2L690.0 622.2L688.2 620.5L687.2 620.2L689.2 620.0L685.2 618.5L684.0 618.8L681.5 618.0L677.0 614.8L675.5 610.8L674.2 598.2L672.0 588.5L669.0 582.0L665.2 576.5L663.2 575.5L659.2 575.8L655.5 577.2L648.8 583.2L646.8 583.8L643.2 582.0L636.2 575.0L634.8 574.2L632.5 573.8L625.8 575.0L619.8 575.0L615.5 573.5L613.8 571.5L613.8 570.2L608.0 569.8L599.5 565.2L596.2 562.8L590.2 560.2L586.5 556.5L583.5 555.0L580.0 555.8ZM538.8 542.2L538.0 545.0L537.8 552.8L539.2 561.2L541.0 563.8L543.0 564.2L547.0 563.8L552.8 559.8L555.8 560.8L559.5 563.0L563.5 562.2L565.5 559.5L566.2 555.8L565.5 552.2L563.2 549.0L560.8 547.2L558.2 547.0L554.5 548.2L547.5 541.0L543.8 539.5L541.2 540.2ZM490.8 535.0L489.2 535.5L488.2 539.0L488.8 543.2L490.5 545.5L491.8 544.2L493.0 541.0L492.5 537.5ZM515.0 530.8L513.8 532.2L513.0 534.5L513.5 536.8L516.2 540.5L516.2 543.8L520.5 546.5L525.0 545.8L525.0 544.2L526.8 541.0L526.5 535.8L525.0 533.0L525.0 531.0L523.8 529.8L521.2 529.2L517.5 529.5ZM465.0 503.8L461.5 503.0L453.0 505.5L446.5 506.8L443.0 508.2L442.8 509.8L442.0 510.0L443.5 518.0L442.8 519.5L442.8 520.8L444.5 524.5L445.8 526.0L446.5 526.0L448.0 527.5L452.2 516.8L454.8 513.8L457.8 511.5L464.5 508.0L465.8 505.8ZM343.0 397.0L341.8 398.5L342.0 414.2L343.0 418.8L346.2 422.8L346.2 423.8L347.5 424.0L350.8 426.8L353.8 426.2L355.8 425.0L358.2 425.5L363.5 428.5L366.5 433.0L367.2 437.8L370.2 445.5L373.0 448.8L377.5 452.5L381.8 458.0L387.5 468.8L388.5 469.8L392.2 477.5L393.2 480.8L396.2 485.8L398.2 488.0L400.8 489.0L406.0 489.2L407.8 489.8L408.5 490.5L409.0 493.2L411.0 498.8L413.8 502.5L420.5 506.0L421.5 507.0L421.5 507.8L425.0 510.5L426.2 512.2L430.2 513.8L433.8 512.2L436.8 510.0L436.0 509.8L438.5 505.2L438.5 497.0L436.8 493.2L436.5 489.8L435.2 489.0L435.0 488.2L431.0 487.5L422.5 483.5L412.8 477.8L408.5 474.0L407.8 472.0L405.2 469.5L403.8 466.2L402.2 465.0L398.2 455.2L396.8 453.8L395.0 450.0L391.5 446.5L387.2 444.0L385.2 440.0L384.8 436.2L383.2 433.2L382.0 427.8L379.5 421.0L375.8 414.5L373.0 411.5L363.5 405.0L362.0 403.5L360.2 400.2L357.5 396.8L353.8 396.8L350.5 397.5L345.8 396.5ZM306.8 356.0L301.5 360.5L300.8 362.0L299.8 365.5L299.8 375.0L302.8 383.2L305.5 394.0L307.8 399.8L309.5 400.2L313.8 399.2L317.0 395.8L320.5 402.5L326.2 411.5L326.5 413.5L333.5 422.8L334.0 424.0L336.2 426.2L337.8 424.5L338.2 421.0L337.5 420.0L336.2 419.8L337.0 416.2L337.5 409.5L337.0 399.8L336.0 396.0L334.8 395.0L333.8 395.0L332.0 392.5L329.2 373.5L328.0 368.0L326.5 364.2L323.2 359.0L318.8 355.2L312.2 354.5ZM271.8 346.8L270.0 348.0L268.8 351.5L268.8 356.5L269.8 358.8L269.8 361.0L271.0 363.5L272.2 364.2L274.8 368.0L276.8 369.2L276.8 367.2L277.5 366.2L277.5 360.8L276.5 354.0L275.5 350.0L274.0 347.2Z"/>
<path fill="#009900" fill-rule="evenodd" d="M902.0 793.2L904.2 796.0L912.2 801.0L928.0 808.8L935.2 813.0L935.2 810.5L936.2 810.2L937.5 810.8L937.5 795.0L935.2 793.5L935.2 790.5L930.0 788.0L923.2 783.8L919.0 783.0L914.8 784.0L910.0 786.5L903.8 791.2ZM847.5 756.8L851.0 758.5L852.0 759.8L854.0 760.2L860.0 759.5L866.2 756.5L871.2 753.0L873.0 748.2L872.2 747.2L867.8 747.2L862.2 745.0L850.0 745.0L850.0 747.8L848.5 749.0L848.2 751.5L847.0 752.5L847.5 753.8ZM580.8 560.0L580.5 564.8L583.0 574.5L584.8 579.5L586.2 580.5L587.2 583.8L588.0 584.8L590.8 586.8L595.2 587.0L600.0 585.0L601.0 583.2L603.2 581.8L606.0 583.8L605.0 586.2L604.0 593.0L604.0 596.0L603.2 598.0L602.5 603.5L604.2 607.5L607.0 611.2L612.2 616.2L613.2 617.8L617.2 619.0L621.5 619.5L626.2 617.8L629.0 617.8L630.5 616.2L632.8 615.0L636.2 614.0L637.5 614.2L639.5 613.0L640.2 613.0L645.5 618.2L647.0 619.0L654.5 619.8L657.5 619.8L661.8 619.0L663.2 619.5L665.5 622.0L666.8 620.2L666.5 624.2L668.0 634.0L681.2 647.0L682.0 649.5L685.0 650.8L685.0 663.2L688.2 667.0L692.8 668.0L696.5 666.8L698.5 666.8L706.5 663.0L709.0 661.0L710.5 654.5L710.2 651.8L705.0 648.2L704.0 648.2L700.8 645.0L698.2 637.5L695.2 631.5L693.0 629.0L689.5 627.0L687.8 625.2L685.0 623.8L685.0 625.0L683.8 625.2L676.8 620.2L683.2 620.0L682.0 619.0L676.8 616.8L674.2 613.2L673.2 608.8L673.0 601.8L671.8 591.8L670.2 587.5L666.5 581.0L664.0 578.8L660.2 577.8L656.2 578.8L652.8 581.2L649.2 585.5L646.5 586.8L642.5 585.0L635.8 578.2L632.0 577.0L615.0 577.2L607.5 575.8L602.8 571.2L602.5 570.0L602.0 570.0L599.8 567.2L597.5 566.2L593.5 563.0L590.0 562.2L586.8 559.2L583.5 558.2ZM540.2 543.2L539.8 545.5L539.5 552.2L540.2 557.8L541.0 560.8L542.0 562.2L546.0 562.2L549.5 559.5L552.8 557.8L553.8 557.8L556.0 559.8L559.2 561.2L561.8 561.0L563.2 560.2L564.8 557.2L564.5 553.5L564.0 552.0L561.8 549.2L558.2 548.8L554.0 550.2L545.8 542.0L543.8 541.2L542.2 541.8ZM519.2 531.2L517.2 531.8L515.2 533.2L514.5 536.2L517.2 541.0L517.2 543.2L519.2 544.8L520.5 545.0L523.2 544.0L525.0 540.5L524.8 536.2L523.2 533.2L522.5 532.5ZM450.8 513.0L448.2 513.2L445.8 515.0L445.8 519.8L444.5 520.2L446.8 524.5L447.2 524.0L447.5 524.2L450.0 517.0ZM385.8 456.8L387.0 465.5L389.5 469.8L390.8 470.2L392.8 476.2L396.5 482.8L399.2 485.5L403.0 485.8L406.0 486.5L410.0 489.2L412.2 497.0L414.5 500.2L422.2 504.8L423.2 505.8L423.2 507.5L426.5 510.5L428.2 511.2L431.8 511.2L435.0 508.2L435.0 507.5L436.8 504.8L436.8 497.5L436.2 495.8L435.0 494.0L435.0 490.8L426.5 487.5L417.8 482.8L414.8 482.0L410.2 479.5L407.0 475.8L405.8 471.8L404.5 470.2L403.0 467.0L401.5 465.8L398.2 457.8L394.2 454.2L390.8 454.8ZM367.5 416.8L368.0 432.2L369.2 438.5L371.8 444.2L376.0 447.8L380.0 450.0L383.2 450.8L384.2 444.2L382.5 434.0L379.8 425.2L376.8 419.2L372.5 415.8L371.2 415.8ZM343.5 399.0L343.2 402.2L342.8 403.2L343.0 413.8L343.8 417.8L347.0 422.0L347.2 423.0L348.2 423.2L350.2 425.0L352.8 424.8L355.8 422.8L357.5 419.2L361.5 418.0L365.0 417.5L365.8 414.8L365.8 411.8L363.5 407.8L359.2 403.2L349.5 399.0L345.8 398.2L344.0 398.5ZM307.8 357.5L304.2 360.2L302.5 362.5L301.5 366.0L301.5 374.5L302.2 379.2L303.8 383.0L306.5 393.8L308.0 397.8L309.5 398.5L312.8 397.8L316.5 393.8L317.2 393.5L318.8 394.8L326.0 409.5L329.5 414.5L332.5 417.5L334.5 415.0L335.0 409.2L334.2 400.0L331.8 395.0L331.0 395.0L330.5 394.2L327.5 374.0L326.2 368.5L324.8 364.8L321.8 360.0L317.8 356.8L312.2 356.2ZM272.0 350.8L270.5 352.5L270.5 356.0L271.5 358.2L271.5 361.2L272.2 362.2L273.5 362.8L274.0 364.0L275.8 365.8L275.8 358.8L275.2 357.8L275.0 354.8L273.8 351.8Z"/>
<path fill="#ffff00" fill-rule="evenodd" d="M904.2 793.2L909.5 797.8L930.2 808.0L937.5 810.8L937.5 795.0L925.2 786.8L920.2 785.0L915.8 785.5L911.0 788.0ZM867.2 749.0L865.2 748.0L862.0 747.0L857.2 747.0L853.8 748.0L850.0 750.0L850.0 753.5L849.2 754.2L849.2 756.2L851.2 757.8L854.8 758.8L859.2 758.0L866.5 753.5L868.0 750.8ZM670.8 620.8L669.2 622.5L668.2 625.5L668.2 631.0L670.0 635.0L680.2 646.0L687.2 649.2L690.0 652.0L690.8 655.2L689.2 659.8L689.2 664.0L688.8 665.0L692.2 665.0L693.0 665.5L694.8 665.0L698.5 665.0L707.2 660.2L708.2 657.2L707.8 655.8L708.0 653.2L707.5 650.0L702.2 650.0L699.2 647.5L696.8 640.5L692.8 632.8L691.0 631.5L687.5 627.5L685.0 626.8L685.0 628.8L683.2 628.8L679.2 626.8L673.2 621.2ZM609.2 580.8L606.8 586.8L605.5 596.8L605.8 602.5L608.0 606.5L612.0 611.0L614.8 615.5L617.5 618.2L620.5 619.2L625.2 618.2L630.2 616.2L640.0 610.8L643.2 611.5L647.8 616.0L650.8 618.0L653.8 617.0L655.8 615.5L657.0 615.8L663.5 613.0L666.2 613.2L669.2 612.5L670.5 609.2L671.2 605.0L670.2 593.5L667.8 586.5L666.0 583.5L663.2 580.5L660.2 579.5L656.8 580.5L652.8 583.8L647.5 590.5L644.0 588.0L641.2 586.8L635.8 580.5L632.8 579.2L629.2 578.8L616.5 578.8L612.2 579.2ZM646.8 595.5L648.5 596.8L648.5 600.2L647.0 603.2L644.0 604.8L642.2 603.8L642.5 602.2L644.0 598.2ZM589.2 563.8L586.8 565.0L586.2 568.2L586.8 574.0L588.2 580.0L589.8 580.0L590.8 582.0L593.2 583.2L595.2 583.2L596.8 582.5L598.8 580.0L600.5 580.0L599.2 570.0L598.0 570.0L596.0 567.2L592.5 564.5ZM541.8 544.2L541.2 551.8L542.0 557.2L543.0 560.8L545.0 560.8L548.5 558.0L551.8 556.2L553.8 555.8L559.2 559.5L561.8 559.2L563.0 556.0L562.5 553.0L560.8 550.8L558.2 550.5L556.0 551.8L553.2 552.0L545.5 544.0L543.8 543.0ZM519.2 533.0L516.8 534.2L516.2 535.8L516.2 539.0L517.5 541.8L519.5 543.2L521.8 543.0L523.2 540.0L523.0 536.8L521.8 534.2ZM413.2 486.2L412.0 488.2L412.5 492.0L414.5 496.2L416.5 499.0L423.8 503.0L425.0 504.8L425.0 508.2L428.0 509.2L431.8 508.2L434.2 505.8L435.0 504.2L435.0 498.0L434.2 495.8L431.8 493.8L430.2 493.5L428.5 492.5L425.0 492.5L422.0 491.0L418.5 488.5L415.8 485.8ZM395.0 458.0L392.0 459.8L391.5 461.2L391.2 465.5L393.0 472.0L394.5 475.8L397.2 480.5L400.0 483.2L403.2 483.8L405.8 481.8L405.8 478.0L404.5 473.8L401.0 465.2L399.2 464.5L397.5 460.8ZM373.8 423.0L372.8 423.5L372.0 425.0L372.8 425.2L372.0 427.2L372.0 430.2L373.0 438.5L375.0 443.2L377.8 445.8L380.0 445.0L380.8 441.2L380.2 436.8L377.0 425.5L375.0 423.0ZM345.0 400.0L345.0 402.8L344.2 404.8L344.2 410.0L345.0 413.5L345.0 416.8L346.8 420.0L348.2 421.8L349.8 422.8L351.8 423.2L354.2 421.8L355.8 418.5L357.0 414.5L356.2 409.8L354.2 405.8L351.0 401.8L348.5 400.5ZM273.2 359.2L273.2 360.8L274.0 360.8L274.0 359.2ZM308.8 359.0L304.5 362.5L303.2 366.5L303.2 374.0L305.2 386.0L306.8 392.0L309.5 396.8L311.8 396.2L314.5 393.0L317.0 391.2L319.8 393.0L327.2 408.0L330.0 411.8L330.0 411.2L330.5 411.2L331.2 406.2L327.8 389.5L325.8 374.5L324.5 369.0L323.0 365.2L320.2 361.0L316.8 358.2L312.2 358.0Z"/>
<path fill="#ffcc00" fill-rule="evenodd" d="M909.2 793.0L909.8 794.8L921.8 800.5L928.2 804.5L933.0 806.8L937.5 807.5L937.5 798.2L924.8 790.2L920.8 788.2L916.8 788.2L912.8 790.2ZM854.2 753.8L854.5 754.5L857.0 755.0L858.8 754.2L860.0 753.0L856.8 752.0L854.5 753.0ZM671.8 626.2L670.5 629.8L671.8 633.2L680.8 643.2L684.5 644.8L685.0 645.5L686.2 645.5L689.0 646.8L690.8 646.2L693.0 644.5L692.5 641.5L690.2 637.0L687.0 634.8L685.2 634.2L684.0 634.5L679.2 633.2L675.5 629.8L673.8 626.8ZM662.5 584.5L659.2 584.2L656.8 585.8L656.8 589.5L655.8 593.2L650.8 603.0L649.5 607.2L651.5 609.8L649.2 610.0L651.8 612.0L655.0 612.0L657.8 609.8L665.8 607.5L668.5 604.5L669.5 601.0L669.5 595.5L668.5 591.5L666.0 587.0ZM610.5 584.2L608.0 589.2L607.5 593.2L608.0 597.5L608.8 600.0L610.8 602.5L614.5 603.2L615.8 602.8L617.8 603.8L618.8 607.0L620.2 609.8L617.5 610.0L618.2 613.2L621.5 614.2L624.5 613.2L628.5 614.2L632.5 612.5L638.8 605.8L642.0 599.0L642.5 595.8L642.0 591.5L637.2 584.8L633.5 582.5L630.2 582.0L625.5 582.5L620.5 582.0L614.0 582.5ZM428.0 499.2L428.0 501.8L428.8 501.8L428.8 499.2ZM398.0 469.2L397.2 470.5L397.5 472.0L399.0 475.5L400.8 477.5L400.8 474.0L399.5 470.8ZM345.0 404.5L345.0 408.2L346.0 409.8L347.0 413.5L348.5 416.5L350.8 418.0L352.5 415.8L353.0 411.5L352.0 408.0L349.5 405.0L347.8 405.2ZM309.2 363.8L308.0 365.8L307.0 369.5L307.0 377.5L308.0 383.5L309.5 387.5L314.2 383.0L317.5 383.2L320.8 386.8L323.8 388.2L325.5 383.5L325.5 377.0L324.2 371.8L321.8 366.8L317.5 363.2L312.8 363.0Z"/>
<path fill="#ff6600" fill-rule="evenodd" d="M925.0 799.2L926.5 802.8L929.2 804.5L931.8 804.5L934.2 803.0L934.5 800.5L932.5 798.2L929.5 797.0L927.5 797.2ZM663.0 592.0L660.5 593.5L659.5 595.5L659.2 598.8L660.0 601.8L661.5 604.0L664.5 604.5L666.8 603.2L668.0 600.8L667.2 596.2L665.8 594.0ZM611.2 585.8L610.0 587.5L609.2 590.2L609.5 595.0L612.0 598.8L615.0 599.5L615.2 598.2L618.2 598.2L620.5 600.0L621.5 604.5L623.8 609.8L620.8 610.0L622.5 612.0L630.0 611.8L632.8 609.8L636.2 605.8L638.8 601.8L640.5 596.0L640.0 591.8L637.8 588.5L634.2 586.2L631.0 585.8L625.5 586.8L622.5 588.2L619.2 585.8L615.2 585.0L615.0 583.8L612.5 585.5ZM312.0 368.8L311.2 371.2L313.8 375.8L320.0 382.5L322.0 381.8L323.0 376.5L320.8 371.8L316.2 368.5L313.5 368.0Z"/>
<path fill="#ff0000" fill-rule="evenodd" d="M623.0 610.0L625.0 611.2L628.2 610.0ZM610.8 587.5L609.8 590.5L610.8 594.2L612.5 595.8L614.8 596.8L615.2 595.8L617.0 595.8L619.5 595.0L621.5 598.8L623.5 606.2L625.8 609.2L629.2 609.2L632.0 607.2L636.0 602.2L638.0 598.2L638.8 594.0L637.8 591.0L634.2 588.0L631.0 587.5L628.8 587.8L625.8 588.8L622.5 591.8L620.0 591.8L617.5 588.2L615.0 587.0L615.0 585.5L612.5 587.2Z"/>
<path fill="#cc3300" fill-rule="evenodd" d="M635.8 593.0L632.8 591.8L629.0 592.2L626.8 593.8L624.5 596.2L623.2 599.8L624.0 602.8L626.2 606.2L629.2 606.8L632.0 604.8L635.8 599.5L636.8 596.0Z"/>
<path fill="#990000" fill-rule="evenodd" d="M632.5 594.2L630.0 594.5L626.8 597.0L625.8 599.0L626.2 602.5L628.2 604.2L631.0 602.8L633.2 599.2L633.8 595.8Z"/>
<path fill="#ff00ff" fill-rule="evenodd" d="M630.8 598.0L628.2 598.8L628.8 600.0L630.8 599.5Z"/>
</g>
</g>
<defs><clipPath id="pc"><rect x="262.6" y="79.2" width="675.0" height="741.0999999999999"/></clipPath></defs>
<path class="grid" stroke-dasharray="1.7 7.833" stroke-dashoffset="0.85" d="M301.2 820.3V79.2M359.0 820.3V79.2M416.9 820.3V79.2M474.7 820.3V79.2M532.6 820.3V79.2M590.5 820.3V79.2M648.3 820.3V79.2M706.2 820.3V79.2M764.0 820.3V79.2M821.9 820.3V79.2M879.7 820.3V79.2"/>
<path class="grid" stroke-dasharray="1.7 8.116" stroke-dashoffset="0.85" d="M263.1 797.8H937.6M263.1 730.5H937.6M263.1 663.1H937.6M263.1 595.7H937.6M263.1 528.4H937.6M263.1 461.0H937.6M263.1 393.6H937.6M263.1 326.2H937.6M263.1 258.9H937.6M263.1 191.5H937.6M263.1 124.1H937.6"/>
<g id="coast" clip-path="url(#pc)">
<path class="coast" d="M278.0 79.2L288.0 95.0L296.0 102.0L300.0 111.0L304.0 122.0L322.4 129.4L326.0 139.4L318.0 136.0L310.6 141.6L318.0 148.0L322.4 155.6L318.0 163.0L307.4 161.6L299.0 165.6L291.4 159.6L278.0 171.6L295.0 179.6L308.6 191.4L319.0 189.4L325.6 196.0L327.4 207.0L327.4 221.0L324.4 233.4L332.6 229.4L329.6 239.4L322.0 243.0L313.6 249.6L304.0 251.6L302.0 255.0M322.4 129.4L325.4 119.4L331.0 111.0L334.6 101.6L344.6 99.6L351.0 105.0L359.0 112.0L368.0 116.0L388.0 120.0L473.0 159.4L482.0 155.4L495.0 144.0M326.0 79.2L333.0 86.0L350.0 94.0L355.0 102.0L372.0 110.0L392.0 113.4L402.0 118.0L408.6 123.6L419.0 125.6L430.0 125.6L440.0 127.6L457.0 135.4L470.0 135.4L478.0 139.6L488.0 138.0L495.0 133.0M450.0 101.0L456.0 110.0L447.4 113.4ZM491.0 79.2L495.0 86.0M490.0 79.2L495.0 87.0L499.0 98.0L498.0 110.0L499.0 122.0L496.0 132.0L495.0 133.0M495.0 144.0L504.0 139.6L512.0 133.0L519.4 129.4L526.6 135.6L538.0 135.6L546.0 142.0L554.0 145.6L561.0 153.6L569.0 157.4L579.4 147.6L583.0 157.6L588.0 165.6L605.0 173.4L608.6 183.0L610.6 195.4L622.6 195.4L631.0 199.6L639.4 195.4L648.0 199.6L662.0 211.6L672.0 209.6L680.0 206.0L689.0 199.6L699.0 197.4L708.0 193.4L715.0 187.6L711.6 163.0M674.0 79.2L675.0 91.0L677.4 107.0L684.0 125.0L692.0 140.0L700.0 153.0L703.0 163.4L705.0 163.0M705.0 163.0L713.0 161.6L717.0 164.6L722.0 173.0L726.0 184.0L728.6 191.4L724.0 183.6L724.0 198.0L720.6 207.4L728.6 203.6L734.0 211.6L735.4 224.0L742.0 243.0L747.0 251.6L750.6 261.0L757.0 271.0L760.0 280.0L782.4 315.0M782.4 315.0L785.0 319.0L792.6 325.6L818.0 365.0L825.0 371.0L835.0 369.4L838.6 379.4L869.0 427.0L878.0 431.0L881.0 441.0L886.6 449.0L895.0 453.4L915.0 457.4L920.6 465.0L937.6 478.6M920.6 465.0L926.0 469.0L921.0 471.0L917.0 481.0L908.0 484.4L895.0 473.0L889.4 465.0L881.0 461.0L871.4 463.0L866.0 471.0L872.6 484.0M872.6 484.0L868.0 484.6L859.0 489.0L853.4 497.0L853.4 581.0L855.4 583.0L865.0 584.6L875.0 589.0L881.0 596.0L890.0 600.6L895.0 609.0L892.0 618.0L885.0 625.0L868.0 633.0L864.4 642.6L857.6 648.6L859.4 655.0M304.0 251.4L300.6 261.0L305.0 271.0L298.0 281.0L292.0 287.0L288.4 293.6L293.0 303.0L291.6 314.0L294.0 326.0L302.0 343.0L308.0 356.0L317.0 370.0L325.0 383.0L332.0 394.0L346.0 400.0L361.0 402.6L379.0 405.0L389.0 410.0L399.0 418.0L406.0 425.0M399.4 309.4L407.0 315.0L411.4 352.0L419.0 357.0L431.0 372.0L439.0 377.0L449.0 379.4L457.0 385.4L468.0 385.4L469.0 397.0M407.0 315.0L416.6 331.4L426.0 335.4L436.0 333.4L441.0 341.4L450.0 343.4L457.0 351.0L465.0 354.6L471.0 363.0L481.0 370.0L488.0 373.0L495.0 374.6M420.6 348.0L423.4 343.4L432.0 345.0L437.4 353.0L429.0 355.0L425.0 353.0ZM406.0 425.0L411.0 432.0L419.0 446.0L428.0 460.0L437.4 464.4L444.0 445.6L452.6 441.0L454.6 429.6L464.6 431.0L474.0 418.0L481.6 409.0L472.0 411.6L469.0 401.0L469.0 397.0M495.0 374.6L497.4 375.0L488.6 379.4L499.0 377.6L506.0 384.0L508.0 396.0L515.0 402.4L525.0 417.0L525.0 431.0L519.4 440.0L518.0 451.0L524.0 456.0L529.0 464.0L537.0 472.0L544.0 479.4L555.0 477.4L563.0 479.4L573.0 483.4L590.0 486.4L601.0 490.4L611.0 496.0L615.0 503.0M615.0 503.0L620.8 511.2L630.5 513.0L647.0 520.8L658.0 524.5L672.0 536.7L677.5 545.0L685.5 548.5L692.5 554.5L697.5 562.5L704.6 568.3L709.6 578.3L716.7 584.2L721.7 591.7L725.4 602.5L723.3 608.3L721.7 613.3L723.3 625.0L728.8 632.5L721.7 638.3L717.1 645.8L726.7 644.6L718.3 647.9L717.5 655.0L715.8 660.8L712.5 663.3L707.5 667.5L703.3 671.7L701.2 676.7L699.6 681.7L702.5 686.7L705.8 692.5L709.2 698.3L714.2 702.5L719.2 706.7L723.3 710.0L725.8 714.2L728.3 718.3L732.5 720.8L736.7 722.5L743.3 721.7L749.2 720.4L754.2 722.5L758.3 724.2L784.0 736.6L788.6 729.0L789.0 717.0L788.3 715.0L785.0 704.2L782.5 700.8L780.0 696.5L773.3 693.3L767.5 690.8L762.5 688.3L758.3 680.8L755.8 674.2L753.3 666.7L751.2 660.8L773.3 656.2L776.7 660.8L780.8 667.5L783.3 672.5L800.0 680.8L810.8 682.5L817.9 688.3L805.8 688.3L810.8 696.7L820.8 698.8L812.9 702.5L816.7 708.3L819.2 715.0L821.2 722.5L817.5 727.5L815.0 733.3L814.2 742.5L818.3 745.8L824.2 750.8L830.0 755.0L835.0 757.5L839.2 761.7L843.3 766.7L846.7 771.7L850.0 774.2L853.3 780.0L856.7 788.3L860.0 798.3L860.4 814.2L867.5 814.2L869.6 802.5L865.8 791.7L865.4 776.7L866.7 769.2L870.0 761.7L874.2 757.5L879.2 755.8L885.8 752.5L891.7 750.0L900.0 748.3L908.3 750.0L920.8 752.9L929.2 756.7L937.6 758.3M831.7 745.8L836.7 751.7L841.7 757.5L846.7 761.7L853.3 764.5L855.0 770.8L856.2 778.3L859.2 786.7L862.5 795.0L862.5 805.0L860.8 814.2M859.4 655.0L860.8 659.2L871.2 674.2L875.0 694.2L874.6 712.5L871.7 717.5L867.5 721.7L862.5 725.8L856.7 727.5L851.7 728.8L850.0 732.5L846.7 736.7L842.5 740.0L836.7 743.3L831.7 745.8"/>
</g>
<rect class="frame" x="262.6" y="79.2" width="675.0" height="741.0999999999999"/>
<path d="M301.2 820.3v5M359.0 820.3v5M416.9 820.3v5M474.7 820.3v5M532.6 820.3v5M590.5 820.3v5M648.3 820.3v5M706.2 820.3v5M764.0 820.3v5M821.9 820.3v5M879.7 820.3v5M262.6 797.8h-5.6M262.6 730.5h-5.6M262.6 663.1h-5.6M262.6 595.7h-5.6M262.6 528.4h-5.6M262.6 461.0h-5.6M262.6 393.6h-5.6M262.6 326.2h-5.6M262.6 258.9h-5.6M262.6 191.5h-5.6M262.6 124.1h-5.6" stroke="#000" stroke-width="1.6" fill="none"/>
<text class="ax axm" transform="scale(0.9,1)" x="315.03 325.81 333.89 341.97 353.50" y="840.7">85.8W</text>
<text class="ax axm" transform="scale(0.9,1)" x="379.32 390.09 398.18 406.26 417.78" y="840.7">85.5W</text>
<text class="ax axm" transform="scale(0.9,1)" x="443.60 454.38 462.46 470.55 482.07" y="840.7">85.2W</text>
<text class="ax axm" transform="scale(0.9,1)" x="507.89 518.66 526.75 534.83 546.35" y="840.7">84.9W</text>
<text class="ax axm" transform="scale(0.9,1)" x="572.17 582.95 591.03 599.12 610.64" y="840.7">84.6W</text>
<text class="ax axm" transform="scale(0.9,1)" x="636.46 647.24 655.32 663.40 674.92" y="840.7">84.3W</text>
<text class="ax axm" transform="scale(0.9,1)" x="708.83 719.60 731.13" y="840.7">84W</text>
<text class="ax axm" transform="scale(0.9,1)" x="765.03 775.81 783.89 791.97 803.50" y="840.7">83.7W</text>
<text class="ax axm" transform="scale(0.9,1)" x="829.32 840.09 848.18 856.26 867.78" y="840.7">83.4W</text>
<text class="ax axm" transform="scale(0.9,1)" x="893.60 904.38 912.46 920.55 932.07" y="840.7">83.1W</text>
<text class="ax axm" transform="scale(0.9,1)" x="957.89 968.66 976.75 984.83 996.35" y="840.7">82.8W</text>
<text class="ax" transform="scale(0.98,1)" x="227.68 235.11 242.53 253.33" y="803.9424242424243">8.1N</text>
<text class="ax" transform="scale(0.98,1)" x="227.68 235.11 242.53 253.33" y="736.5696969696969">8.4N</text>
<text class="ax" transform="scale(0.98,1)" x="227.68 235.11 242.53 253.33" y="669.1969696969699">8.7N</text>
<text class="ax" transform="scale(0.98,1)" x="242.53 253.33" y="601.8242424242425">9N</text>
<text class="ax" transform="scale(0.98,1)" x="227.68 235.11 242.53 253.33" y="534.4515151515155">9.3N</text>
<text class="ax" transform="scale(0.98,1)" x="227.68 235.11 242.53 253.33" y="467.07878787878803">9.6N</text>
<text class="ax" transform="scale(0.98,1)" x="227.68 235.11 242.53 253.33" y="399.706060606061">9.9N</text>
<text class="ax" transform="scale(0.98,1)" x="217.79 227.68 235.11 242.53 253.33" y="332.33333333333366">10.2N</text>
<text class="ax" transform="scale(0.98,1)" x="217.79 227.68 235.11 242.53 253.33" y="264.9606060606062">10.5N</text>
<text class="ax" transform="scale(0.98,1)" x="217.79 227.68 235.11 242.53 253.33" y="197.58787878787925">10.8N</text>
<text class="ax" transform="scale(0.98,1)" x="217.79 227.68 235.11 242.53 253.33" y="130.21515151515175">11.1N</text>
<text class="ttl" transform="scale(0.8,1)" x="155.61 175.05 203.00 229.73 255.24 278.32 302.02 325.71 349.40 367.02 385.25 411.98 430.20 444.78 466.65" y="30.9">IMN/SARAPIQUI_5</text>
<text class="ttl" transform="scale(0.95,1)" x="430.31 447.71 463.57 481.98 495.28 509.10 522.91 533.14 549.00 567.93 581.23 595.04 614.48 632.39 649.78 668.20 687.13 712.19 737.26 751.07 764.89 784.33 803.77 821.67 839.07 857.99 875.90 894.32 914.78 933.20 951.10 970.54 986.91 1003.28 1021.70 1038.58 1053.93 1076.44 1107.13 1129.64" y="30.9">Precipitacion Acumulada en 24 horas (mm)</text>
<text class="ttl" x="501.40 520.80 540.20 559.60 580.94 602.28 621.68 643.02 664.36 683.76" y="61.9">2025-09-29</text>
<text class="ft" transform="scale(1.05,1)" x="314.78 325.45 339.68 351.14 359.05 366.95 379.20 391.46 403.71 417.54 433.35 449.95 461.81 473.67 488.29 500.94 513.59 524.26 534.93 549.95 560.62 570.90 585.52 599.35 614.37 630.58 645.20 655.48 666.15 681.17 696.19 706.86 716.34 730.97 746.78 761.00 772.47 784.72 798.55 813.18 824.64 834.91 849.54" y="876.8">Instituto Meteorologico Nacional Costa Rica</text>
<rect x="1057.7" y="724.92" width="22.1" height="42.33" fill="#66ffff" stroke="#000" stroke-width="1.3"/>
<rect x="1057.7" y="682.58" width="22.1" height="42.33" fill="#3399ff" stroke="#000" stroke-width="1.3"/>
<rect x="1057.7" y="640.25" width="22.1" height="42.33" fill="#0000ff" stroke="#000" stroke-width="1.3"/>
<rect x="1057.7" y="597.92" width="22.1" height="42.33" fill="#00ff00" stroke="#000" stroke-width="1.3"/>
<rect x="1057.7" y="555.58" width="22.1" height="42.33" fill="#00cc00" stroke="#000" stroke-width="1.3"/>
<rect x="1057.7" y="513.25" width="22.1" height="42.33" fill="#009900" stroke="#000" stroke-width="1.3"/>
<rect x="1057.7" y="470.92" width="22.1" height="42.33" fill="#ffff00" stroke="#000" stroke-width="1.3"/>
<rect x="1057.7" y="428.58" width="22.1" height="42.33" fill="#ffcc00" stroke="#000" stroke-width="1.3"/>
<rect x="1057.7" y="386.25" width="22.1" height="42.33" fill="#ff6600" stroke="#000" stroke-width="1.3"/>
<rect x="1057.7" y="343.92" width="22.1" height="42.33" fill="#ff0000" stroke="#000" stroke-width="1.3"/>
<rect x="1057.7" y="301.58" width="22.1" height="42.33" fill="#cc3300" stroke="#000" stroke-width="1.3"/>
<rect x="1057.7" y="259.25" width="22.1" height="42.33" fill="#990000" stroke="#000" stroke-width="1.3"/>
<rect x="1057.7" y="216.92" width="22.1" height="42.33" fill="#ff00ff" stroke="#000" stroke-width="1.3"/>
<rect x="1057.7" y="174.58" width="22.1" height="42.33" fill="#9933cc" stroke="#000" stroke-width="1.3"/>
<rect x="1057.7" y="132.25" width="22.1" height="42.33" fill="#f5f5f5" stroke="#000" stroke-width="1.3"/>
<path d="M1057.7 132.25L1068.75 90.0L1079.8 132.25Z" fill="#aaaaaa" stroke="#000" stroke-width="1.3" stroke-linejoin="round"/>
<path d="M1057.7 767.25L1068.75 810.0L1079.8 767.25Z" fill="#ffffff" stroke="#000" stroke-width="1.3" stroke-linejoin="round"/>
<text class="cb" x="1091.40 1101.30 1111.20" y="775.1">3.5</text>
<text class="cb" x="1091.40" y="732.8">7</text>
<text class="cb" x="1091.40 1104.60 1114.50 1124.40" y="690.5">12.5</text>
<text class="cb" x="1091.40 1104.60" y="648.1">15</text>
<text class="cb" x="1091.40 1104.60" y="605.8">20</text>
<text class="cb" x="1091.40 1104.60" y="563.5">25</text>
<text class="cb" x="1091.40 1104.60" y="521.1">30</text>
<text class="cb" x="1091.40 1104.60" y="478.8">40</text>
<text class="cb" x="1091.40 1104.60" y="436.5">50</text>
<text class="cb" x="1091.40 1104.60" y="394.1">60</text>
<text class="cb" x="1091.40 1104.60" y="351.8">75</text>
<text class="cb" x="1091.40 1104.60" y="309.5">90</text>
<text class="cb" x="1091.40 1104.60 1117.80" y="267.1">100</text>
<text class="cb" x="1091.40 1104.60 1117.80" y="224.8">120</text>
<text class="cb" x="1091.40 1104.60 1117.80" y="182.5">150</text>
<text class="cb" x="1091.40 1104.60 1117.80" y="140.2">200</text>
</svg></body></html>
